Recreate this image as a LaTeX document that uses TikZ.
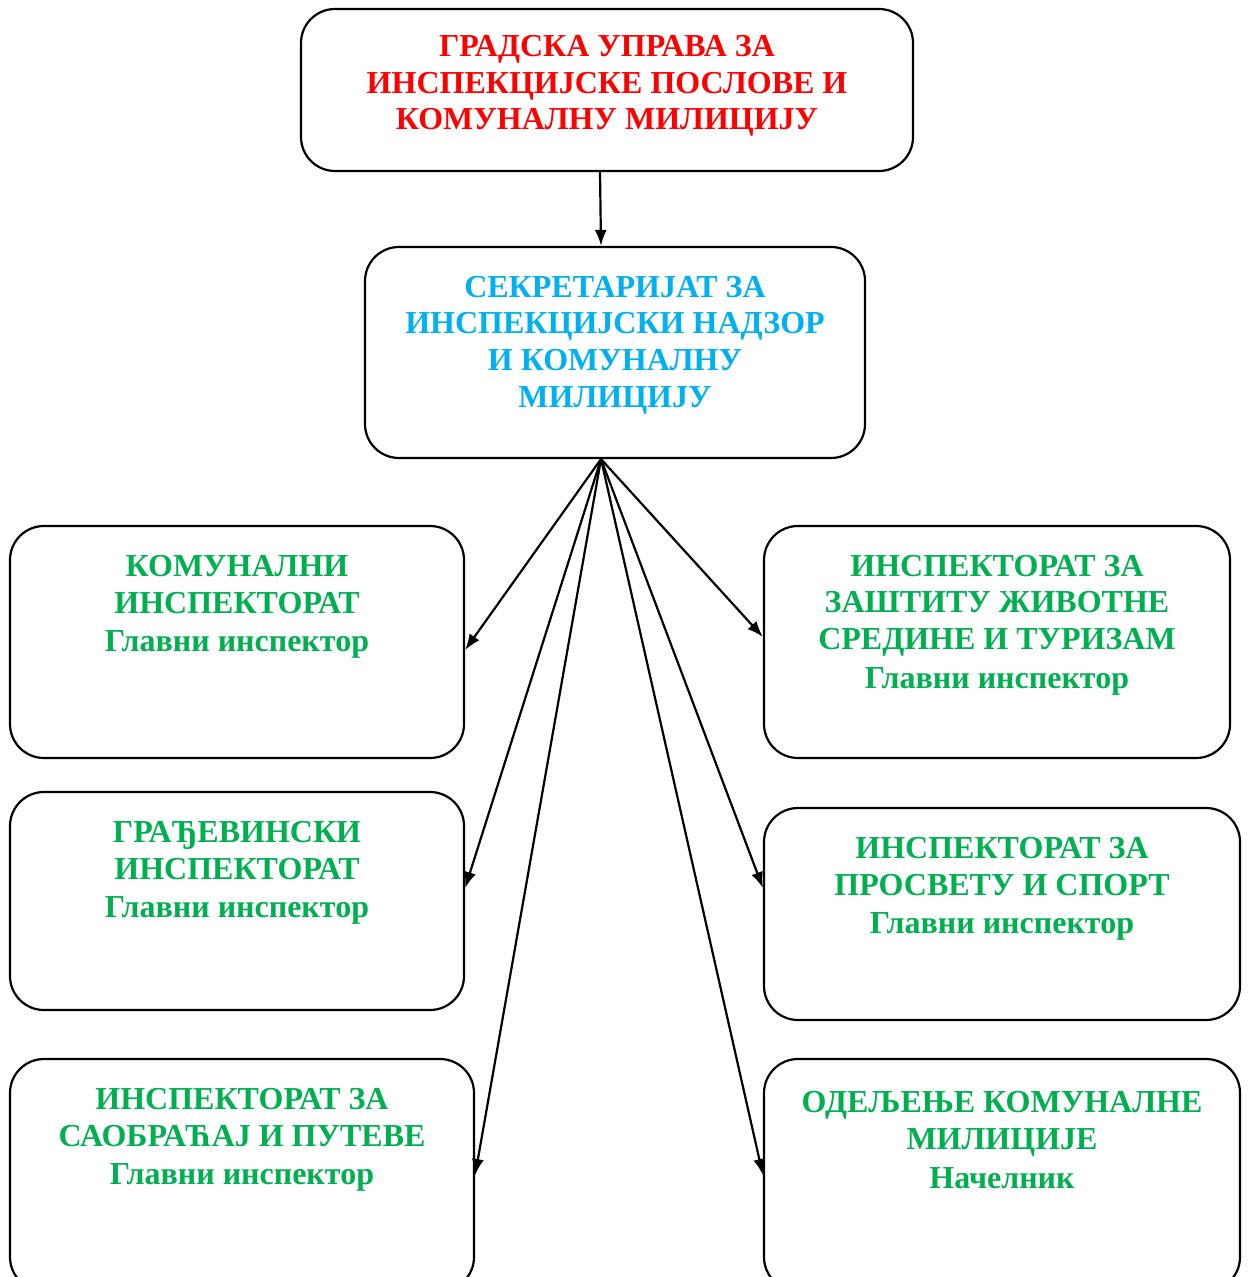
\documentclass[tikz,border=0pt]{standalone}
\usepackage{fontspec}
\setmainfont{Liberation Serif}
\usetikzlibrary{arrows.meta}
\definecolor{cred}{RGB}{255,0,0}
\definecolor{ccyan}{RGB}{0,176,240}
\definecolor{cgreen}{RGB}{0,176,80}
\begin{document}
\begin{tikzpicture}[x=0.5pt,y=-0.5pt,
  box/.style={draw=black,line width=1.1pt,rounded corners=17pt,fill=white,inner sep=0pt},
  txt/.style={align=center,font=\fontsize{16}{18.3}\selectfont\bfseries,inner sep=0pt},
  arr/.style={line width=1.1pt,-{Latex[length=8pt,width=6pt]}}]
\clip (0,0) rectangle (1248,1277);
\fill[white] (0,0) rectangle (1248,1277);
% boxes
\node[box,minimum width=306pt,minimum height=81pt] (top) at (607,90) {};
\node[box,minimum width=250pt,minimum height=105.5pt] (sec) at (615,352.5) {};
\node[box,minimum width=227pt,minimum height=116pt] (l1) at (237,642) {};
\node[box,minimum width=227pt,minimum height=109pt] (l2) at (237,901) {};
\node[box,minimum width=232pt,minimum height=116pt] (l3) at (242,1175) {};
\node[box,minimum width=233pt,minimum height=116pt] (r1) at (997,642) {};
\node[box,minimum width=238pt,minimum height=106pt] (r2) at (1002,914) {};
\node[box,minimum width=238pt,minimum height=116pt] (r3) at (1002,1175) {};
% texts
\node[txt,text=cred] (ttop) at (607,86) {ГРАДСКА УПРАВА ЗА\\ИНСПЕКЦИЈСКЕ ПОСЛОВЕ И\\КОМУНАЛНУ МИЛИЦИЈУ};
\node[txt,text=ccyan] (tsec) at (615,345) {СЕКРЕТАРИЈАТ ЗА\\ИНСПЕКЦИЈСКИ НАДЗОР\\И КОМУНАЛНУ\\МИЛИЦИЈУ};
\node[txt,text=cgreen] (tl1) at (237,607) {КОМУНАЛНИ\\ИНСПЕКТОРАТ\\[1pt]Главни инспектор};
\node[txt,text=cgreen] (tl2) at (237,873) {ГРАЂЕВИНСКИ\\ИНСПЕКТОРАТ\\[1pt]Главни инспектор};
\node[txt,text=cgreen] (tl3) at (242,1140) {ИНСПЕКТОРАТ ЗА\\САОБРАЋАЈ И ПУТЕВЕ\\[1pt]Главни инспектор};
\node[txt,text=cgreen] (tr1) at (997,625) {ИНСПЕКТОРАТ ЗА\\ЗАШТИТУ ЖИВОТНЕ\\СРЕДИНЕ И ТУРИЗАМ\\[1pt]Главни инспектор};
\node[txt,text=cgreen] (tr2) at (1002,889) {ИНСПЕКТОРАТ ЗА\\ПРОСВЕТУ И СПОРТ\\[1pt]Главни инспектор};
\node[txt,text=cgreen] (tr3) at (1002,1140) {ОДЕЉЕЊЕ КОМУНАЛНЕ\\МИЛИЦИЈЕ\\[1pt]Начелник};
% connectors
\coordinate (hub) at (sec.south -| 601,0);
\draw[arr] (top.south -| 600,0) -- (sec.north -| 601,0);
\draw[arr] (hub) -- (l1.east |- 0,650);
\draw[arr] (hub) -- (l2.east |- 0,888);
\draw[arr] (hub) -- (l3.east |- 0,1175);
\draw[arr] (hub) -- (r1.west |- 0,637);
\draw[arr] (hub) -- (r2.west |- 0,888);
\draw[arr] (hub) -- (r3.west |- 0,1175);
\end{tikzpicture}
\end{document}
